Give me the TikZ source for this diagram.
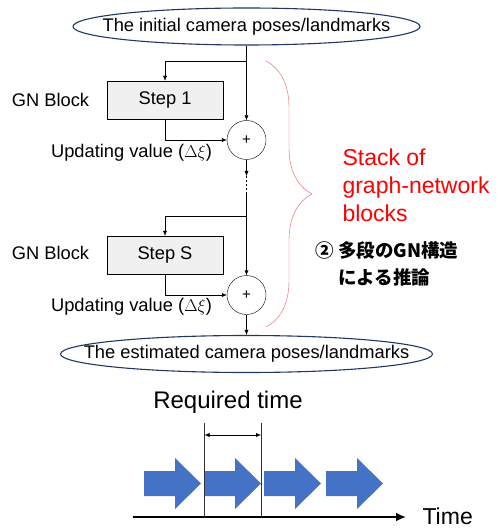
\documentclass[tikz,border=0pt]{standalone}
\usepackage{fontspec}
\setmainfont{Liberation Sans}
\newfontfamily\cjk{Noto Sans CJK JP}
\usetikzlibrary{shapes.geometric,arrows.meta,decorations.pathreplacing}
\definecolor{poseblue}{HTML}{203864}
\definecolor{chevblue}{HTML}{4472C4}
\definecolor{bracered}{HTML}{E06060}
\begin{document}
\begin{tikzpicture}[x=1pt,y=-1pt,
  every node/.style={font=\fontsize{18.3}{22}\selectfont},
  pose/.style={draw=poseblue,line width=1.1pt,ellipse,fill=white,inner xsep=-60pt,inner ysep=0pt,minimum height=37,minimum width=347},
  gnstep/.style={draw,fill=black!6,minimum width=116,minimum height=38,inner sep=0pt},
  plus/.style={draw,circle,minimum size=39,inner sep=0pt,font=\fontsize{15}{16}\selectfont},
  conn/.style={-{Latex[length=5pt,width=4pt]}},
  chev/.style={fill=chevblue}]
\useasboundingbox (0,0) rectangle (501,529);
% upper part: the stacked GN blocks
\node[pose] (init) at (246.5,26.5) {The initial camera poses/landmarks};
\node[gnstep] (step1) at (165,100) {Step 1};
\node[plus] (plus1) at (246.5,140) {+};
\node[gnstep] (stepS) at (165,255) {Step S};
\node[plus] (plus2) at (246.5,295) {+};
\node[pose,minimum width=372] (est) at (246.5,354) {The estimated camera poses/landmarks};
\node (gn1) at (50.5,100) {GN Block};
\node (gnS) at (50.5,253) {GN Block};
\node (upd1) at (131.5,153) {Updating value ($\Delta\xi$)};
\node (updS) at (131.5,307) {Updating value ($\Delta\xi$)};
\coordinate (br1) at (246.5,61);
\coordinate (dot1) at (246.5,176);
\coordinate (dot2) at (246.5,193);
\coordinate (br2) at (246.5,216);
\draw[conn] (init.south) -- (plus1.north);
\draw[conn] (br1) -| (step1.north);
\draw[conn] (step1.south) |- (plus1.west);
\draw[conn] (plus1.south) -- (dot1);
\draw[dash pattern=on 2pt off 2pt] (dot1) -- (dot2);
\draw[conn] (dot2) -- (plus2.north);
\draw[conn] (br2) -| (stepS.north);
\draw[conn] (stepS.south) |- (plus2.west);
\draw[conn] (plus2.south) -- (est.north);
% brace and its labels
\coordinate (bracetop) at (266,61);
\coordinate (bracebot) at (266,327);
\draw[bracered,decorate,decoration={brace,amplitude=46pt}] (bracetop) -- (bracebot);
\node[text=red,align=left,anchor=west,font=\fontsize{23}{28}\selectfont] (stack) at (339,185) {Stack of\\graph-network\\blocks};
\node[anchor=west,align=left,font=\cjk\bfseries\fontsize{18.5}{27}\selectfont] (infer) at (312,263.5) {②~多段のGN構造\\\phantom{②~}による推論};
% lower part: required time
\node[font=\fontsize{24}{28}\selectfont] (req) at (228,402) {Required time};
\foreach \x in {144,204,264,326}
  \fill[chev] (\x,471) -- ++(31,0) -- ++(0,-13) -- ++(26,25.5) -- ++(-26,25.5) -- ++(0,-13) -- ++(-31,0) -- cycle;
\coordinate (mark1) at (204.5,423);
\coordinate (mark2) at (261,423);
\coordinate (span1) at (204.5,435);
\coordinate (span2) at (261,435);
\coordinate (axisL) at (133,517);
\coordinate (axisR) at (406,517);
\draw[black!80] (mark1) -- (mark1 |- axisL);
\draw[black!80] (mark2) -- (mark2 |- axisL);
\draw[{Latex[length=5pt,width=4pt]}-{Latex[length=5pt,width=4pt]}] (span1) -- (span2);
\draw[line width=2.5pt,-{Latex[length=10pt,width=9pt]}] (axisL) -- (axisR);
\node[font=\fontsize{23}{28}\selectfont,anchor=west] (time) at (419,516) {Time};
\end{tikzpicture}
\end{document}
